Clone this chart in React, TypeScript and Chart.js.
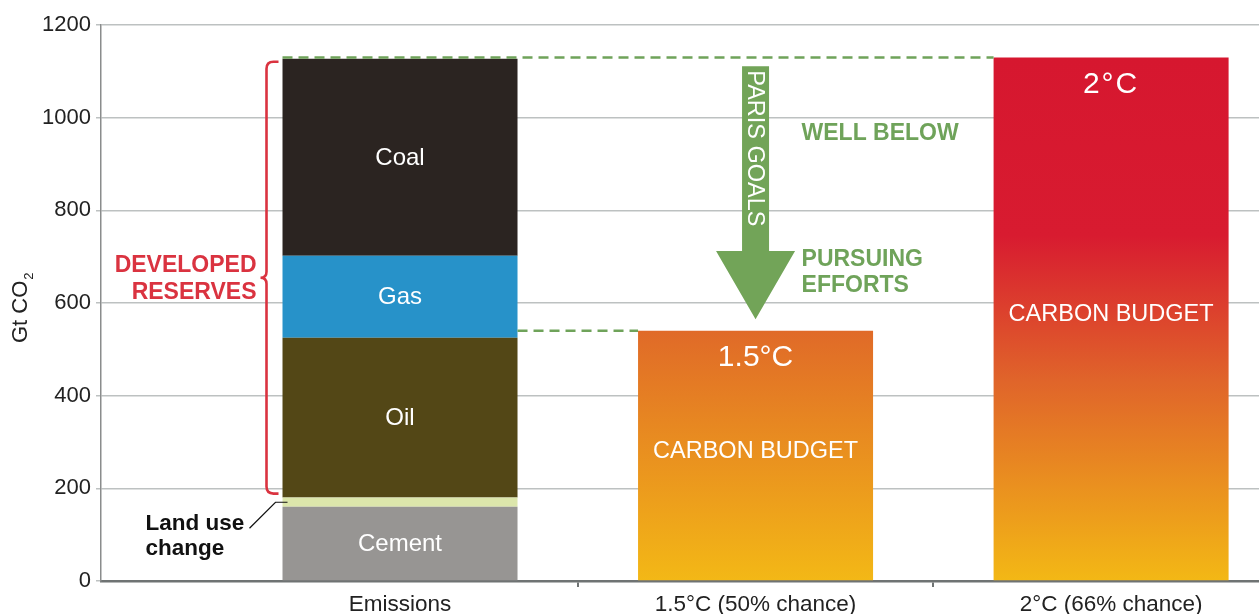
import React, { useEffect, useRef } from 'react';
import { Chart, registerables } from 'chart.js';

Chart.register(...registerables);

// ---------------- data ----------------
const CATEGORIES = ['Emissions', '1.5°C (50% chance)', '2°C (66% chance)'];
const CATEGORY_POS = [1, 2, 3];
const EMISSION_SOURCES = ['Cement', 'Land use change', 'Oil', 'Gas', 'Coal'];
const EMISSION_VALUES = [160, 20, 345, 177, 425];
const EMISSION_COLORS = ['#979593', '#DCE6AB', '#534716', '#2792C9', '#2B2421'];
const BUDGET_NAMES = ['1.5°C', '2°C'];
const BUDGET_VALUES = [540, 1130];
const Y_TICKS = [0, 200, 400, 600, 800, 1000, 1200];

// arrow geometry in data units (y) on the 1.5°C category
const ARROW_TOP = 1111;
const ARROW_HEAD = 712;
const ARROW_TIP = 565;

const FAMILY = '"Liberation Sans", Arial, Helvetica, sans-serif';
const GREEN = '#6FA35A';
const RED = '#DA3340';

const budgetGradient = (context: any) => {
  const chart = context.chart;
  const area = chart.chartArea;
  if (!area || !chart.scales || !chart.scales.y) return '#E07A28';
  const ys = chart.scales.y;
  const raw = context.raw || { y: 0 };
  const top = ys.getPixelForValue(raw.y);
  const bottom = ys.getPixelForValue(0);
  const g = chart.ctx.createLinearGradient(0, top, 0, bottom);
  if (context.dataIndex === 0) {
    g.addColorStop(0, '#E06A28');
    g.addColorStop(1, '#F3B816');
  } else {
    g.addColorStop(0, '#D6172F');
    g.addColorStop(0.34, '#D81B30');
    g.addColorStop(0.62, '#E0652A');
    g.addColorStop(1, '#F3B815');
  }
  return g;
};

const annotationPlugin = {
  id: 'annotations',
  afterDatasetsDraw(chart: any) {
    const { ctx } = chart;
    const xs = chart.scales.x;
    const ys = chart.scales.y;
    const segEls = EMISSION_SOURCES.map((_, i) => chart.getDatasetMeta(i).data[0]);
    const budgetEls = chart.getDatasetMeta(EMISSION_SOURCES.length).data;
    const emis = segEls[segEls.length - 1];
    const emisLeft = emis.x - emis.width / 2;
    const emisRight = emis.x + emis.width / 2;

    ctx.save();

    // labels inside the emission segments
    ctx.fillStyle = '#ffffff';
    ctx.textAlign = 'center';
    ctx.textBaseline = 'middle';
    ctx.font = `24px ${FAMILY}`;
    EMISSION_SOURCES.forEach((name, i) => {
      if (name === 'Land use change') return;
      const el = segEls[i];
      ctx.fillText(name, el.x, (el.y + el.base) / 2 + 1);
    });

    // budget labels
    budgetEls.forEach((el: any, i: number) => {
      ctx.fillStyle = '#ffffff';
      ctx.font = `30px ${FAMILY}`;
      if (i === 1) (ctx as any).letterSpacing = '2px';
      ctx.fillText(BUDGET_NAMES[i], el.x, el.y + 27);
      (ctx as any).letterSpacing = '0px';
      ctx.font = `23.5px ${FAMILY}`;
      ctx.fillText('CARBON BUDGET', el.x, (el.y + el.base) / 2 - 4);
    });

    // dashed green reference lines
    ctx.strokeStyle = GREEN;
    ctx.lineWidth = 2.5;
    ctx.setLineDash([10, 6]);
    const y2 = ys.getPixelForValue(BUDGET_VALUES[1]);
    const b2 = budgetEls[1];
    ctx.beginPath();
    ctx.moveTo(emisLeft, y2);
    ctx.lineTo(b2.x - b2.width / 2, y2);
    ctx.stroke();
    const y15 = ys.getPixelForValue(BUDGET_VALUES[0]);
    const b1 = budgetEls[0];
    ctx.beginPath();
    ctx.moveTo(emisRight, y15);
    ctx.lineTo(b1.x - b1.width / 2, y15);
    ctx.stroke();
    ctx.setLineDash([]);

    // green arrow
    const ax = xs.getPixelForValue(CATEGORY_POS[1]);
    const aTop = ys.getPixelForValue(ARROW_TOP);
    const aHead = ys.getPixelForValue(ARROW_HEAD);
    const aTip = ys.getPixelForValue(ARROW_TIP);
    ctx.fillStyle = '#72A458';
    ctx.beginPath();
    ctx.moveTo(ax - 13.5, aTop);
    ctx.lineTo(ax + 13.5, aTop);
    ctx.lineTo(ax + 13.5, aHead);
    ctx.lineTo(ax + 39.5, aHead);
    ctx.lineTo(ax, aTip);
    ctx.lineTo(ax - 39.5, aHead);
    ctx.lineTo(ax - 13.5, aHead);
    ctx.closePath();
    ctx.fill();

    ctx.save();
    ctx.translate(ax, aTop + 4);
    ctx.rotate(Math.PI / 2);
    ctx.fillStyle = '#ffffff';
    ctx.font = `23.5px ${FAMILY}`;
    ctx.textAlign = 'left';
    ctx.textBaseline = 'middle';
    ctx.fillText('PARIS GOALS', 0, 1);
    ctx.restore();

    // green captions
    ctx.fillStyle = GREEN;
    ctx.font = `bold 23px ${FAMILY}`;
    ctx.textAlign = 'left';
    ctx.textBaseline = 'middle';
    ctx.fillText('WELL BELOW', ax + 46, aTop + 67);
    ctx.fillText('PURSUING', ax + 46, aHead + 9);
    ctx.fillText('EFFORTS', ax + 46, aHead + 35);

    // red brace for developed reserves
    const oilEl = segEls[2];
    const bTop = emis.y + 3;
    const bBot = oilEl.base - 4;
    const bMid = (bTop + bBot) / 2;
    const xr = emisLeft - 4;
    const xv = emisLeft - 16;
    const xt = emisLeft - 22;
    const r = 7;
    ctx.strokeStyle = RED;
    ctx.lineWidth = 2.6;
    ctx.lineCap = 'butt';
    ctx.beginPath();
    ctx.moveTo(xr, bTop);
    ctx.lineTo(xv + r, bTop);
    ctx.quadraticCurveTo(xv, bTop, xv, bTop + r);
    ctx.lineTo(xv, bMid - 6);
    ctx.quadraticCurveTo(xv, bMid, xt, bMid);
    ctx.quadraticCurveTo(xv, bMid, xv, bMid + 6);
    ctx.lineTo(xv, bBot - r);
    ctx.quadraticCurveTo(xv, bBot, xv + r, bBot);
    ctx.lineTo(xr, bBot);
    ctx.stroke();

    ctx.fillStyle = RED;
    ctx.font = `bold 23px ${FAMILY}`;
    ctx.textAlign = 'right';
    ctx.textBaseline = 'middle';
    ctx.fillText('DEVELOPED', xt - 4, bMid - 12);
    ctx.fillText('RESERVES', xt - 4, bMid + 15);

    // land use change caption with leader
    const landEl = segEls[1];
    const landY = (landEl.y + landEl.base) / 2;
    ctx.strokeStyle = '#111111';
    ctx.lineWidth = 1.2;
    ctx.beginPath();
    ctx.moveTo(emisLeft - 33, landY + 26);
    ctx.lineTo(emisLeft - 7, landY);
    ctx.lineTo(emisLeft + 5, landY);
    ctx.stroke();
    ctx.fillStyle = '#111111';
    ctx.font = `bold 22.5px ${FAMILY}`;
    ctx.textAlign = 'left';
    ctx.textBaseline = 'alphabetic';
    ctx.fillText('Land use', emisLeft - 137, landY + 28);
    ctx.fillText('change', emisLeft - 137, landY + 53);

    ctx.restore();
  },
  afterDraw(chart: any) {
    // y axis title: Gt CO2 with subscript
    const { ctx } = chart;
    const ys = chart.scales.y;
    const cy = (ys.top + ys.bottom) / 2;
    ctx.save();
    ctx.translate(27, cy + 40);
    ctx.rotate(-Math.PI / 2);
    ctx.fillStyle = '#222222';
    ctx.font = `22px ${FAMILY}`;
    ctx.textAlign = 'left';
    ctx.textBaseline = 'alphabetic';
    ctx.fillText('Gt CO', 0, 0);
    const w = ctx.measureText('Gt CO').width;
    ctx.font = `13px ${FAMILY}`;
    ctx.fillText('2', w + 1, 6);
    ctx.restore();
  },
};

export default function App() {
  const canvasRef = useRef<HTMLCanvasElement | null>(null);

  useEffect(() => {
    document.body.style.margin = '0';
    document.body.style.overflow = 'hidden';
    const canvas = canvasRef.current;
    if (!canvas) return;

    const datasets: any[] = EMISSION_SOURCES.map((name, i) => ({
      label: name,
      data: [{ x: CATEGORY_POS[0], y: EMISSION_VALUES[i] }],
      backgroundColor: EMISSION_COLORS[i],
      borderWidth: 0,
    }));
    datasets.push({
      label: 'Carbon budget',
      data: BUDGET_VALUES.map((v, i) => ({ x: CATEGORY_POS[i + 1], y: v })),
      backgroundColor: budgetGradient,
      borderWidth: 0,
    });

    const chart = new Chart(canvas, {
      type: 'bar',
      data: { datasets },
      options: {
        responsive: false,
        animation: false,
        layout: { padding: { top: 25, left: 0, right: 0, bottom: 0 } },
        // the bar ruler also measures the half-step tick marks, so the
        // sample size is half a category: 1.322 * 0.5 = 0.661 of a category
        datasets: { bar: { barPercentage: 1.322, categoryPercentage: 1 } } as any,
        plugins: {
          legend: { display: false },
          tooltip: { enabled: false },
        },
        scales: {
          x: {
            type: 'linear',
            stacked: true,
            offset: false,
            min: 0.159,
            max: 3.416,
            afterBuildTicks: (s: any) => {
              s.ticks = [1, 1.5, 2, 2.5, 3].map((v) => ({ value: v }));
            },
            afterFit: (s: any) => {
              s.height = 33;
            },
            ticks: {
              autoSkip: false,
              maxRotation: 0,
              padding: 4,
              color: '#222222',
              font: { family: FAMILY, size: 22.5 },
              callback: (v: any) => {
                const i = CATEGORY_POS.indexOf(Number(v));
                return i >= 0 ? CATEGORIES[i] : '';
              },
            },
            grid: {
              offset: false,
              drawOnChartArea: false,
              tickLength: 6,
              lineWidth: 2,
              tickColor: (c: any) =>
                c.tick && Number.isInteger(c.tick.value) ? 'rgba(0,0,0,0)' : '#6F7373',
            } as any,
            border: { color: '#6F7373', width: 2.5 },
          },
          y: {
            stacked: true,
            min: 0,
            max: 1200,
            afterBuildTicks: (s: any) => {
              s.ticks = Y_TICKS.map((v) => ({ value: v }));
            },
            afterFit: (s: any) => {
              s.width = 101;
            },
            ticks: {
              padding: 5,
              color: '#222222',
              font: { family: FAMILY, size: 22 },
              callback: (v: any) => String(v),
            },
            grid: {
              color: '#BDC1C1',
              lineWidth: 1.5,
              tickLength: 5,
            },
            border: { color: '#8A8C8C', width: 1.5 },
          },
        },
      } as any,
      plugins: [annotationPlugin],
    });

    return () => chart.destroy();
  }, []);

  return (
    <div style={{ width: 1259, height: 614 }}>
      <canvas ref={canvasRef} width={1259} height={614} style={{ display: 'block' }} />
    </div>
  );
}
